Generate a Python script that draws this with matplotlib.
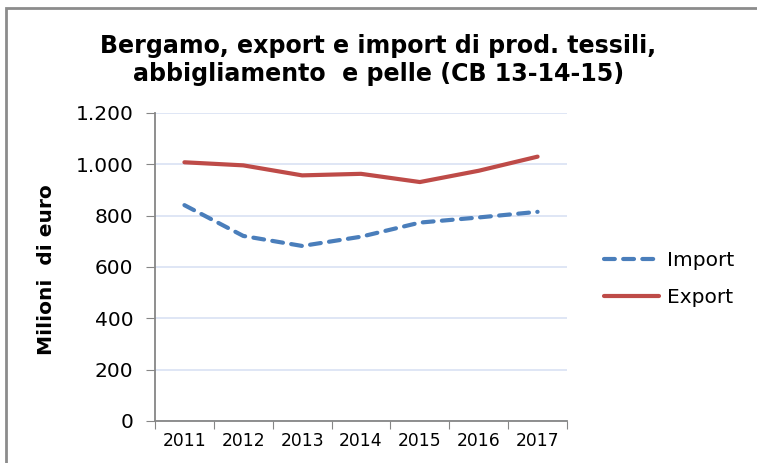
import matplotlib
matplotlib.use("Agg")
import matplotlib.pyplot as plt
from matplotlib.ticker import FuncFormatter
from matplotlib.patches import Rectangle

years = ["2011", "2012", "2013", "2014", "2015", "2016", "2017"]
import_vals = [841, 721, 682, 718, 773, 793, 815]
export_vals = [1008, 996, 957, 963, 931, 975, 1030]

BLUE = "#4a7ebb"
RED = "#be4b48"
GRID = "#d9e2f3"
AXIS = "#868686"

plt.rcParams["font.family"] = "DejaVu Sans"

fig = plt.figure(figsize=(7.57, 4.63), dpi=100)
fig.patch.set_facecolor("white")

# outer chart frame
fig.patches.append(Rectangle((6 / 757, -0.05), 1.2, (463 - 8) / 463 + 0.05,
                             transform=fig.transFigure, fill=False,
                             edgecolor="#8c8c8c", linewidth=2))

ax = fig.add_axes([155 / 757, 1 - 421 / 463, (567 - 155) / 757, (421 - 113) / 463])

x = range(len(years))
ax.plot(x, import_vals, color=BLUE, lw=3.0, ls=(0, (2.6, 2.0)), label="Import",
        solid_capstyle="round", dash_capstyle="round")
ax.plot(x, export_vals, color=RED, lw=3.0, label="Export", solid_capstyle="round")

ax.set_xlim(-0.5, len(years) - 0.5)
ax.set_ylim(0, 1200)
ax.set_yticks(range(0, 1201, 200))
ax.yaxis.set_major_formatter(FuncFormatter(lambda v, p: f"{int(v):,}".replace(",", ".")))
ax.grid(axis="y", color=GRID, lw=1.2)
ax.set_axisbelow(True)

# category ticks sit between the years
ax.set_xticks([i - 0.5 for i in range(len(years) + 1)])
ax.set_xticklabels([])
ax.set_xticks(list(x), minor=True)
ax.set_xticklabels(years, minor=True, fontsize=12.3)
ax.tick_params(axis="x", which="major", length=6, color=AXIS, direction="out")
ax.tick_params(axis="x", which="minor", length=0, pad=8)
ax.tick_params(axis="y", length=6.5, color=AXIS, labelsize=14.5, pad=9)

for s in ["top", "right"]:
    ax.spines[s].set_visible(False)
for s in ["left", "bottom"]:
    ax.spines[s].set_color(AXIS)
    ax.spines[s].set_linewidth(1.3)

fig.text(47 / 757, 1 - 270 / 463, "Milioni  di euro", rotation=90,
         ha="center", va="center", fontsize=14.5, fontweight="bold")

fig.text(0.5, 1 - 60 / 463,
         "Bergamo, export e import di prod. tessili,\nabbigliamento  e pelle (CB 13-14-15)",
         ha="center", va="center", fontsize=17.1, fontweight="bold", linespacing=1.25)

fig.legend(loc="center left", bbox_to_anchor=(586 / 757, 1 - 279 / 463), frameon=False,
           fontsize=14.5, handlelength=2.7, labelspacing=0.9, handletextpad=0.4)

fig.savefig("out.png", dpi=100)
